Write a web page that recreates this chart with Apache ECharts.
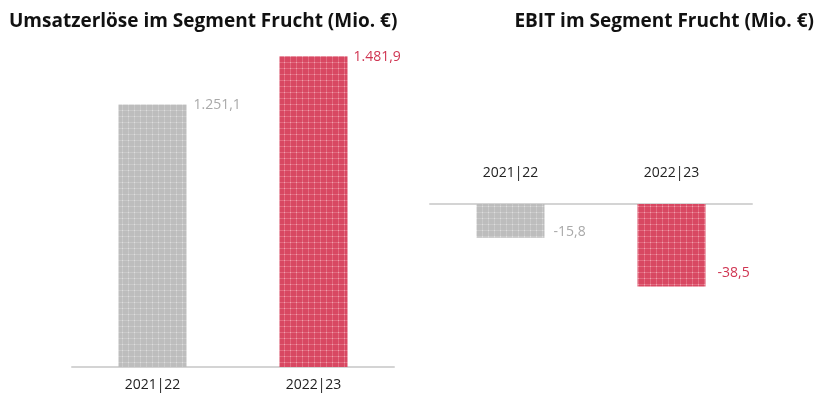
<!DOCTYPE html>
<html>
<head>
<meta charset="utf-8">
<script src="https://cdn.jsdelivr.net/npm/echarts@6/dist/echarts.min.js"></script>
<style>
html,body{margin:0;padding:0;background:#fff;}
#main{width:819px;height:401px;}
</style>
</head>
<body>
<div id="main"></div>
<script>
const categories = ['2021|22', '2022|23'];
const revenueValues = [1251.1, 1481.9];
const ebitValues = [-15.8, -38.5];
const titles = ['Umsatzerlöse im Segment Frucht (Mio. €)', 'EBIT im Segment Frucht (Mio. €)'];

function fmt(v) {
  const neg = v < 0;
  const s = Math.abs(v).toFixed(1).split('.');
  const intPart = s[0].replace(/\B(?=(\d{3})+(?!\d))/g, '.');
  return (neg ? '-' : '') + intPart + ',' + s[1];
}

function makePattern(base, line, dot) {
  const c = document.createElement('canvas');
  c.width = 6; c.height = 6;
  const g = c.getContext('2d');
  g.fillStyle = base; g.fillRect(0, 0, 6, 6);
  g.fillStyle = line;
  g.fillRect(0, 2, 6, 1);
  g.fillRect(2, 0, 1, 6);
  g.fillStyle = dot;
  g.fillRect(2, 2, 1, 1);
  return { image: c, repeat: 'repeat' };
}

const grayPat = makePattern('#bdbdbd', '#c9c9c9', '#dedede');
const redPat = makePattern('#d84862', '#e26a7f', '#eea0ad');
const pats = [grayPat, redPat];
const labelColors = ['#a9a9a9', '#d03552'];
const font = '"Open Sans", "DejaVu Sans", sans-serif';

const revLabelOffsets = [[41, 0], [40, 1]];
const ebitLabelOffsets = [[43, -6], [46, -13]];

const revData = revenueValues.map((v, i) => ({
  value: v,
  itemStyle: { color: pats[i] },
  label: { color: labelColors[i], offset: revLabelOffsets[i] }
}));
const ebitData = ebitValues.map((v, i) => ({
  value: v,
  itemStyle: { color: pats[i] },
  label: { color: labelColors[i], offset: ebitLabelOffsets[i] }
}));

const chart = echarts.init(document.getElementById('main'), null, { renderer: 'canvas' });
chart.setOption({
  animation: false,
  title: [
    { text: titles[0], left: 4, top: 7, textStyle: { fontFamily: font, fontWeight: 'bold', fontSize: 19, color: '#111' } },
    { text: titles[1], right: 0, top: 7, textStyle: { fontFamily: font, fontWeight: 'bold', fontSize: 19, color: '#111' } }
  ],
  grid: [
    { left: 72, width: 322, top: 52.4, height: 314.6 },
    { left: 430, width: 322, top: 204, height: 107 }
  ],
  xAxis: [
    {
      gridIndex: 0, type: 'category', data: categories,
      axisLine: { lineStyle: { color: '#d4d4d4', width: 2 } },
      axisTick: { show: false },
      axisLabel: { color: '#222', fontFamily: font, fontSize: 14, margin: 11 }
    },
    {
      gridIndex: 1, type: 'category', data: categories, position: 'top',
      axisLine: { lineStyle: { color: '#d4d4d4', width: 2 } },
      axisTick: { show: false },
      axisLabel: { color: '#222', fontFamily: font, fontSize: 14, margin: 24 }
    }
  ],
  yAxis: [
    { gridIndex: 0, type: 'value', min: 0, max: 1500, show: false },
    { gridIndex: 1, type: 'value', min: -50, max: 0, show: false }
  ],
  series: [
    {
      type: 'bar', xAxisIndex: 0, yAxisIndex: 0, barWidth: 68, data: revData,
      label: {
        show: true, position: 'top', distance: 0, align: 'left', verticalAlign: 'middle',
        fontFamily: font, fontSize: 14, formatter: p => fmt(p.value)
      }
    },
    {
      type: 'bar', xAxisIndex: 1, yAxisIndex: 1, barWidth: 68, data: ebitData,
      label: {
        show: true, position: 'bottom', distance: 0, align: 'left', verticalAlign: 'middle',
        fontFamily: font, fontSize: 14, formatter: p => fmt(p.value)
      }
    }
  ]
});
</script>
</body>
</html>
